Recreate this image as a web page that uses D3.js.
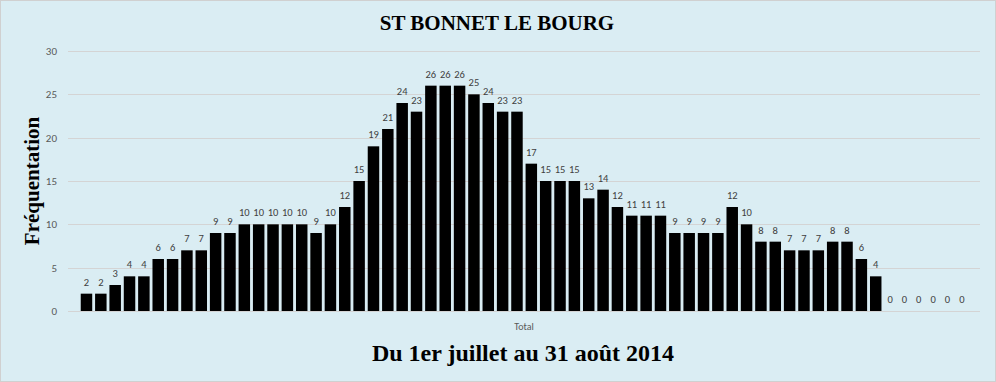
<!DOCTYPE html>
<html><head><meta charset="utf-8">
<script src="https://cdn.jsdelivr.net/npm/d3@7"></script>
<style>html,body{margin:0;padding:0;background:#fff;}svg{display:block;}</style>
</head><body>
<script>
const categories = d3.range(1, 63).map(d => "J" + d);
const values = [2,2,3,4,4,6,6,7,7,9,9,10,10,10,10,10,9,10,12,15,19,21,24,23,26,26,26,25,24,23,23,17,15,15,15,13,14,12,11,11,11,9,9,9,9,12,10,8,8,7,7,7,8,8,6,4,0,0,0,0,0,0];
const yTicks = [0,5,10,15,20,25,30];
const title = "ST BONNET LE BOURG";
const yTitle = "Fréquentation";
const xTitle = "Du 1er juillet au 31 août 2014";
const seriesName = "Total";

const W = 996, H = 382;
const sans = "Carlito, Calibri, Lato, 'Open Sans', sans-serif";
const serif = "'Liberation Serif', 'Times New Roman', serif";
const svg = d3.select("body").append("svg").attr("width", W).attr("height", H);
svg.append("rect").attr("x",0.5).attr("y",0.5).attr("width",W-1).attr("height",H-1)
  .attr("fill","#DAEDF3").attr("stroke","#D0D0D0");

const y = d3.scaleLinear().domain([0,30]).range([311,51]);
const x = d3.scaleBand().domain(categories).range([79.3,969]).paddingInner(0.2).paddingOuter(0.1);

const grid = svg.append("g");
grid.selectAll("line").data(yTicks).join("line")
  .attr("x1",68).attr("x2",980).attr("y1",d=>Math.round(y(d))+0.5).attr("y2",d=>Math.round(y(d))+0.5)
  .attr("stroke","#D4D4D4").attr("stroke-width",1);

const yAxis = d3.axisLeft(y).tickValues(yTicks).tickSize(0).tickPadding(0);
const ga = svg.append("g").attr("transform","translate(57,0)").call(yAxis);
ga.select(".domain").remove();
ga.selectAll("text").attr("font-family",sans).attr("font-size",11).attr("fill","#595959");

svg.append("g").selectAll("rect").data(values).join("rect")
  .attr("x",(d,i)=>x(categories[i])).attr("width",x.bandwidth())
  .attr("y",d=>y(d)).attr("height",d=>y(0)-y(d)).attr("fill","#000");

svg.append("g").selectAll("text").data(values).join("text")
  .attr("x",(d,i)=>x(categories[i])+x.bandwidth()/2)
  .attr("y",d=>y(d)-8)
  .attr("text-anchor","middle")
  .attr("font-family",sans).attr("font-size",10.5)
  .attr("fill","#404040").text(d=>d);

svg.append("text").attr("x",497).attr("y",30).attr("text-anchor","middle")
  .attr("font-family",serif).attr("font-weight","bold")
  .attr("font-size",21).attr("fill","#000").text(title);

svg.append("text").attr("transform","translate(39,181) rotate(-90)").attr("text-anchor","middle")
  .attr("font-family",serif).attr("font-weight","bold")
  .attr("font-size",21).attr("fill","#000").text(yTitle);

svg.append("text").attr("x",524).attr("y",330).attr("text-anchor","middle")
  .attr("font-family",sans).attr("font-size",10)
  .attr("fill","#595959").text(seriesName);

svg.append("text").attr("x",523).attr("y",361).attr("text-anchor","middle")
  .attr("font-family",serif).attr("font-weight","bold")
  .attr("font-size",24).attr("fill","#000").text(xTitle);
</script>
</body></html>
